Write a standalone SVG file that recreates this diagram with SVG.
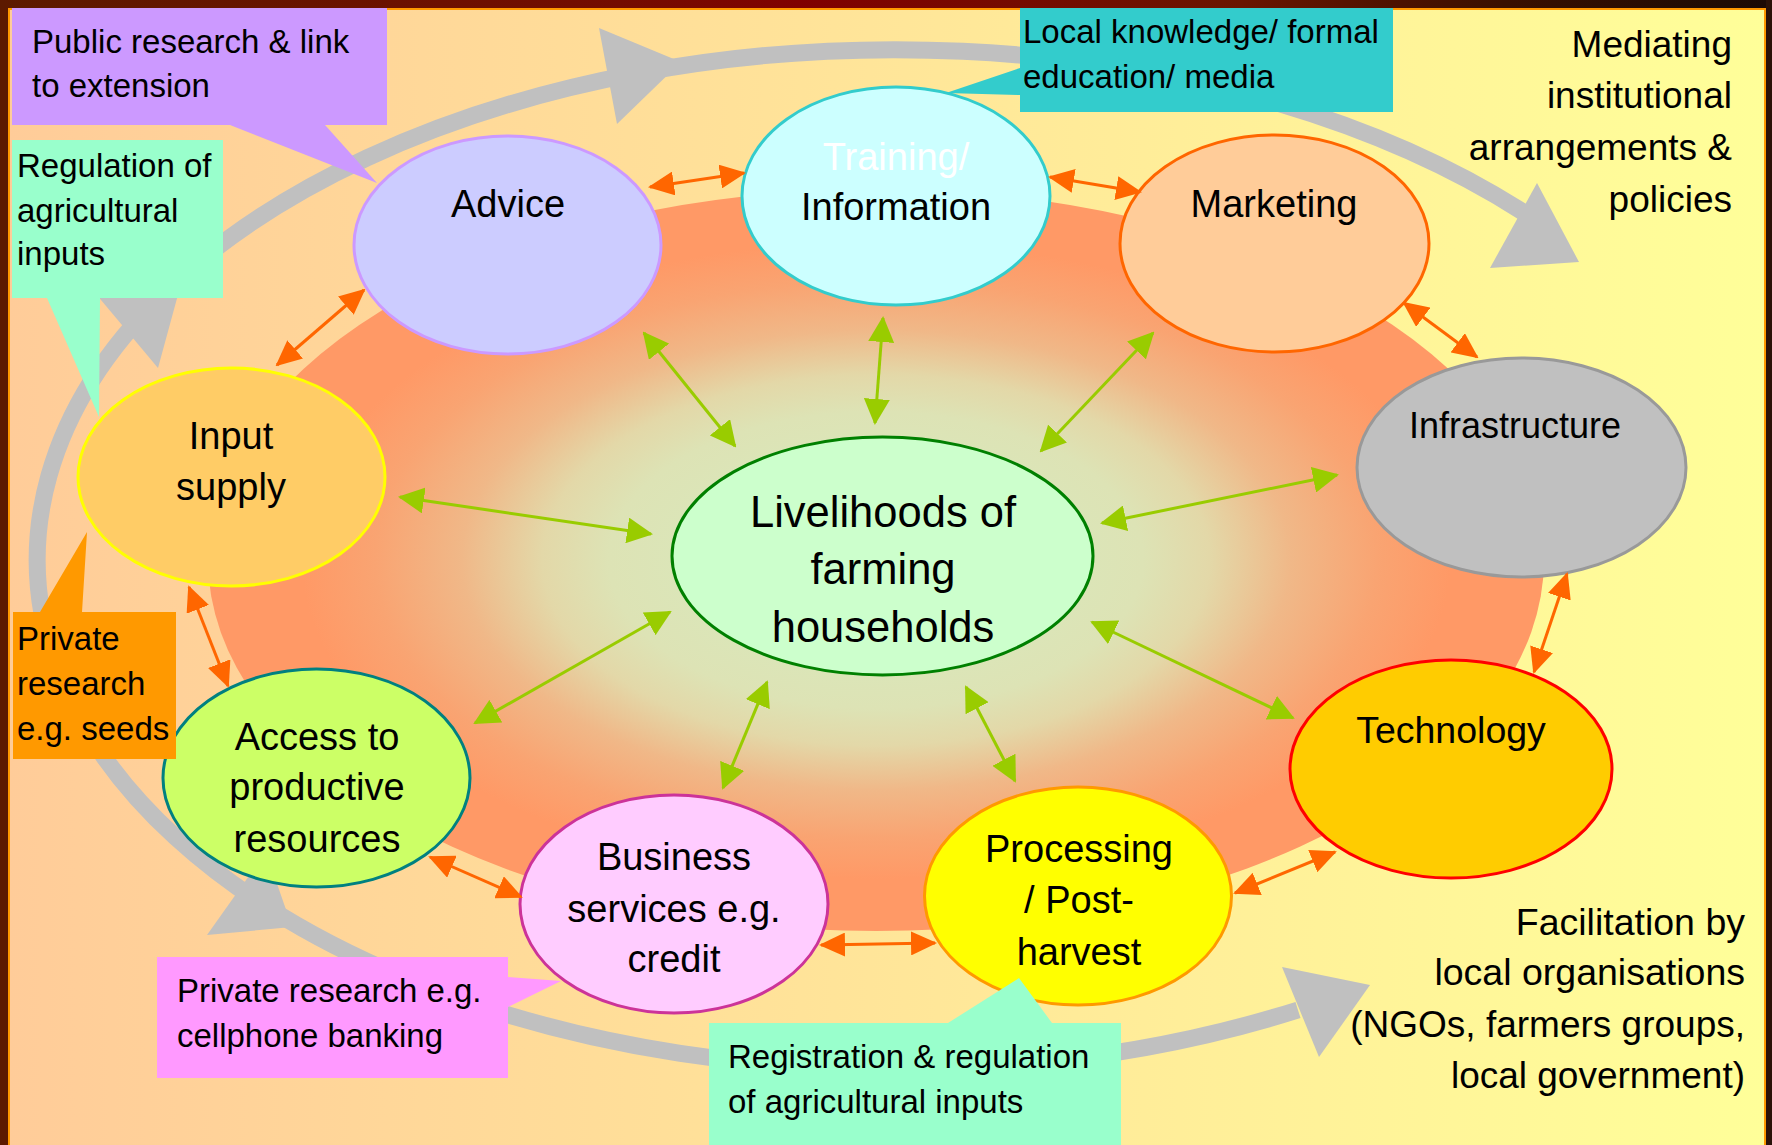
<svg xmlns="http://www.w3.org/2000/svg" width="1772" height="1145" viewBox="0 0 1772 1145">
  <defs>
    <linearGradient id="panelFill" x1="0" y1="0" x2="1" y2="0">
      <stop offset="0" stop-color="#FFCC99"/>
      <stop offset="1" stop-color="#FFFF99"/>
    </linearGradient>
    <linearGradient id="topBand" x1="0" y1="0" x2="1" y2="0">
      <stop offset="0" stop-color="#5C1A00"/>
      <stop offset="0.35" stop-color="#740C00"/>
      <stop offset="0.45" stop-color="#800000"/>
      <stop offset="0.7" stop-color="#6A1500"/>
      <stop offset="0.85" stop-color="#3A1000"/>
      <stop offset="1" stop-color="#1A0A05"/>
    </linearGradient>
    <radialGradient id="blobFill" cx="0.5" cy="0.5" r="0.5">
      <stop offset="0" stop-color="#D6ECC0"/>
      <stop offset="0.4" stop-color="#DDE3B5"/>
      <stop offset="0.5" stop-color="#E3D8A8"/>
      <stop offset="0.62" stop-color="#F0B888"/>
      <stop offset="0.75" stop-color="#F9A472"/>
      <stop offset="0.86" stop-color="#FF9966"/>
      <stop offset="1" stop-color="#FF9966"/>
    </radialGradient>
    <marker id="headOrange" viewBox="0 0 26 24" refX="24" refY="12" markerWidth="26" markerHeight="24" markerUnits="userSpaceOnUse" orient="auto-start-reverse">
      <path d="M0,0 L26,12 L0,24 Z" fill="#FF6600"/>
    </marker>
    <marker id="headGreen" viewBox="0 0 26 26" refX="24" refY="13" markerWidth="26" markerHeight="26" markerUnits="userSpaceOnUse" orient="auto-start-reverse">
      <path d="M0,0 L26,13 L0,26 Z" fill="#99CC00"/>
    </marker>
    <style>
      .txt { font-family: "Liberation Sans", Arial, sans-serif; fill: #000000; }
      .node { font-size: 38px; text-anchor: middle; }
      .call { font-size: 33px; }
      .side { font-size: 37px; text-anchor: end; }
      .oval { stroke-width: 3; }
      .loop { fill: none; stroke: #C0C0C0; stroke-width: 17; }
      .loophead { fill: #C0C0C0; }
      .ora { fill: none; stroke: #FF6600; stroke-width: 3; marker-start: url(#headOrange); marker-end: url(#headOrange); }
      .grn { fill: none; stroke: #99CC00; stroke-width: 3; marker-start: url(#headGreen); marker-end: url(#headGreen); }
    </style>
  </defs>

  <!-- frame and panel -->
  <g id="background">
    <rect x="0" y="0" width="1772" height="1145" fill="#5C1A00"/>
    <rect x="0" y="0" width="1772" height="9" fill="url(#topBand)"/>
    <rect x="1766" y="0" width="6" height="1145" fill="#2A1208"/>
    <rect x="9" y="9" width="1756" height="1140" fill="url(#panelFill)" stroke="#FF9900" stroke-width="2"/>
  </g>

  <!-- large grey loop with its arrowheads -->
  <g id="loop">
    <path class="loop" d="M1298,1010 A858,510 0 1 1 1523,212"/>
    <polygon class="loophead" points="96,294 158,368 182,280"/>
    <polygon class="loophead" points="599,28 681,62 617,124"/>
    <polygon class="loophead" points="1537,183 1579,262 1490,268"/>
    <polygon class="loophead" points="1282,967 1370,985 1319,1057"/>
    <polygon class="loophead" points="207,935 292,927 266,852"/>
  </g>

  <!-- central shaded area -->
  <g id="blob">
    <ellipse cx="876" cy="560" rx="668" ry="371" fill="url(#blobFill)"/>
  </g>

  <!-- nodes -->
  <g id="node-livelihoods">
    <ellipse class="oval" cx="882.5" cy="556" rx="210.5" ry="119" fill="#CCFFCC" stroke="#008000"/>
    <text class="txt node" style="font-size:43.5px" x="883" y="527">Livelihoods of</text>
    <text class="txt node" style="font-size:43.5px" x="883" y="584">farming</text>
    <text class="txt node" style="font-size:43.5px" x="883" y="642">households</text>
  </g>
  <g id="node-advice">
    <ellipse class="oval" cx="507.5" cy="245" rx="153.5" ry="109" fill="#CCCCFF" stroke="#CC99FF"/>
    <text class="txt node" x="508" y="217">Advice</text>
  </g>
  <g id="node-training">
    <ellipse class="oval" cx="896" cy="196" rx="154" ry="109" fill="#CCFFFF" stroke="#33CCCC"/>
    <text class="txt node" x="896" y="170" style="fill:#FFFFFF">Training/</text>
    <text class="txt node" x="896" y="220">Information</text>
  </g>
  <g id="node-marketing">
    <ellipse class="oval" cx="1274.5" cy="243.5" rx="154.5" ry="108.5" fill="#FFCC99" stroke="#FF6600"/>
    <text class="txt node" x="1274" y="217">Marketing</text>
  </g>
  <g id="node-infrastructure">
    <ellipse class="oval" cx="1521.5" cy="467.5" rx="164.5" ry="109.5" fill="#C0C0C0" stroke="#999999"/>
    <text class="txt node" x="1515" y="438" style="font-size:36px">Infrastructure</text>
  </g>
  <g id="node-technology">
    <ellipse class="oval" cx="1451" cy="769" rx="161" ry="109" fill="#FFCC00" stroke="#FF0000"/>
    <text class="txt node" x="1451" y="743" style="font-size:37.5px">Technology</text>
  </g>
  <g id="node-processing">
    <ellipse class="oval" cx="1078" cy="896" rx="153.5" ry="109" fill="#FFFF00" stroke="#FF9900"/>
    <text class="txt node" x="1079" y="862">Processing</text>
    <text class="txt node" x="1079" y="913">/ Post-</text>
    <text class="txt node" x="1079" y="965">harvest</text>
  </g>
  <g id="node-business">
    <ellipse class="oval" cx="674" cy="904" rx="154" ry="109" fill="#FFCCFF" stroke="#CC3399"/>
    <text class="txt node" x="674" y="870">Business</text>
    <text class="txt node" x="674" y="922">services e.g.</text>
    <text class="txt node" x="674" y="972">credit</text>
  </g>
  <g id="node-access">
    <ellipse class="oval" cx="316.5" cy="778" rx="153.5" ry="109" fill="#CCFF66" stroke="#008080"/>
    <text class="txt node" x="317" y="750">Access to</text>
    <text class="txt node" x="317" y="800">productive</text>
    <text class="txt node" x="317" y="852">resources</text>
  </g>
  <g id="node-input">
    <ellipse class="oval" cx="231.5" cy="477" rx="153.5" ry="109" fill="#FFCC66" stroke="#FFFF00"/>
    <text class="txt node" x="231" y="449">Input</text>
    <text class="txt node" x="231" y="500">supply</text>
  </g>

  <!-- connectors -->
  <g id="connectors">
    <!-- ring links between neighbouring services -->
    <line class="ora" x1="650" y1="187" x2="744" y2="173"/>
    <line class="ora" x1="1050" y1="177" x2="1140" y2="192"/>
    <line class="ora" x1="277" y1="365" x2="364" y2="290"/>
    <line class="ora" x1="1404" y1="303" x2="1477" y2="357"/>
    <line class="ora" x1="1567" y1="574" x2="1534" y2="672"/>
    <line class="ora" x1="1335" y1="852" x2="1235" y2="893"/>
    <line class="ora" x1="821" y1="945" x2="935" y2="943"/>
    <line class="ora" x1="430" y1="857" x2="521" y2="897"/>
    <line class="ora" x1="189" y1="587" x2="228" y2="686"/>
    <!-- spokes to the livelihoods hub -->
    <line class="grn" x1="644" y1="333" x2="735" y2="446"/>
    <line class="grn" x1="883" y1="318" x2="875" y2="423"/>
    <line class="grn" x1="1153" y1="333" x2="1041" y2="451"/>
    <line class="grn" x1="400" y1="497" x2="651" y2="534"/>
    <line class="grn" x1="1337" y1="475" x2="1102" y2="523"/>
    <line class="grn" x1="475" y1="723" x2="670" y2="612"/>
    <line class="grn" x1="1293" y1="718" x2="1092" y2="622"/>
    <line class="grn" x1="767" y1="682" x2="723" y2="788"/>
    <line class="grn" x1="966" y1="687" x2="1015" y2="781"/>
  </g>

  <!-- callouts -->
  <g id="callout-public-research">
    <path d="M12,8 H387 V125 H325 L377,183 L230,125 H12 Z" fill="#CC99FF"/>
    <text class="txt call" x="32" y="53">Public research &amp; link</text>
    <text class="txt call" x="32" y="97">to extension</text>
  </g>
  <g id="callout-regulation">
    <path d="M12,140 H223 V298 H100 L99,417 L47,298 H12 Z" fill="#99FFCC"/>
    <text class="txt call" x="17" y="177">Regulation of</text>
    <text class="txt call" x="17" y="222">agricultural</text>
    <text class="txt call" x="17" y="265">inputs</text>
  </g>
  <g id="callout-local-knowledge">
    <path d="M1020,8 H1393 V112 H1020 V95 L946,93 L1020,68 Z" fill="#33CCCC"/>
    <text class="txt call" x="1023" y="43">Local knowledge/ formal</text>
    <text class="txt call" x="1023" y="88">education/ media</text>
  </g>
  <g id="callout-private-seeds">
    <path d="M13,612 H40 L87,532 L82,612 H176 V759 H13 Z" fill="#FF9900"/>
    <text class="txt call" x="17" y="650">Private</text>
    <text class="txt call" x="17" y="695">research</text>
    <text class="txt call" x="17" y="740">e.g. seeds</text>
  </g>
  <g id="callout-private-banking">
    <path d="M157,957 H508 V977 L561,981 L508,1007 V1078 H157 Z" fill="#FF99FF"/>
    <text class="txt call" x="177" y="1002">Private research e.g.</text>
    <text class="txt call" x="177" y="1047">cellphone banking</text>
  </g>
  <g id="callout-registration">
    <path d="M709,1023 H948 L1019,978 L1052,1023 H1121 V1146 H709 Z" fill="#99FFCC"/>
    <text class="txt call" x="728" y="1068">Registration &amp; regulation</text>
    <text class="txt call" x="728" y="1113">of agricultural inputs</text>
  </g>

  <!-- side labels -->
  <g id="label-mediating">
    <text class="txt side" x="1732" y="57">Mediating</text>
    <text class="txt side" x="1732" y="108">institutional</text>
    <text class="txt side" x="1732" y="160">arrangements &amp;</text>
    <text class="txt side" x="1732" y="212">policies</text>
  </g>
  <g id="label-facilitation">
    <text class="txt side" x="1745" y="935" style="font-size:37.5px">Facilitation by</text>
    <text class="txt side" x="1745" y="985" style="font-size:37.5px">local organisations</text>
    <text class="txt side" x="1745" y="1037">(NGOs, farmers groups,</text>
    <text class="txt side" x="1745" y="1088">local government)</text>
  </g>
</svg>
